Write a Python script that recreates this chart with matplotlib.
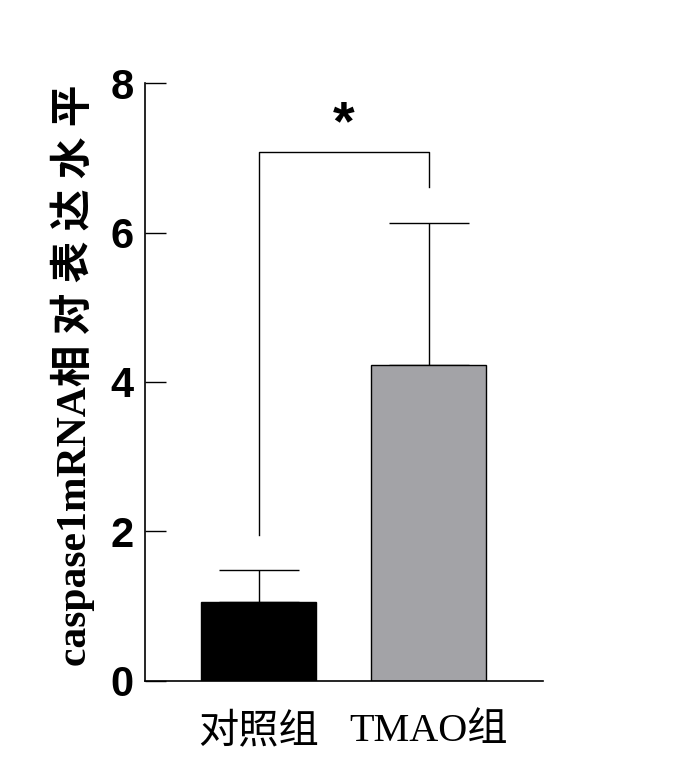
import numpy as np
import matplotlib
matplotlib.use("Agg")
import matplotlib.pyplot as plt

groups = ["对照组", "TMAO组"]
means = [1.06, 4.23]
errs = [0.42, 1.90]
bar_colors = ["#000000", "#a3a3a7"]
yticks = [0, 2, 4, 6, 8]
# significance bracket: left foot, top, right foot
brk_left, brk_top, brk_right = 1.95, 7.08, 6.61
sig = "*"
sig_y = 7.43

fig = plt.figure(figsize=(6.75, 7.63), dpi=100)
ax = fig.add_axes([0.2148, 0.1075, 0.5896, 0.7837])

x = np.arange(len(groups))
ax.bar(x, means, width=0.675, color=bar_colors, edgecolor="black", linewidth=1, zorder=2)
ax.errorbar(x, means, yerr=[np.zeros(len(errs)), errs], fmt="none", ecolor="black",
            elinewidth=1, capsize=29, capthick=1, zorder=1)

# bracket
ax.plot([x[0], x[0], x[1], x[1]], [brk_left, brk_top, brk_top, brk_right],
        color="black", lw=1)
ax.text((x[0] + x[1]) / 2, sig_y, sig, ha="center", va="center",
        fontsize=40, fontweight="bold", family="Liberation Sans")

ax.set_xlim(-0.666, 1.669)
ax.set_ylim(0, 8)
ax.set_yticks(yticks)
ax.set_yticklabels([str(t) for t in yticks], fontsize=30, fontweight="bold",
                   family="Liberation Sans")
ax.tick_params(axis="y", direction="in", length=15, width=1, pad=8)
ax.set_xticks(x)
ax.set_xticklabels(groups, fontsize=29, family=["Liberation Serif", "Noto Sans CJK SC"])
ax.tick_params(axis="x", length=0, pad=23)

for s in ["top", "right"]:
    ax.spines[s].set_visible(False)
for s in ["left", "bottom"]:
    ax.spines[s].set_linewidth(1.2)

ax.set_ylabel("caspase1mRNA相 对 表 达 水 平", fontsize=30, fontweight="bold",
              family=["Liberation Serif", "Noto Sans CJK SC"])
ax.yaxis.set_label_coords(-0.125, 0.512)

fig.savefig("out.png", dpi=100)
